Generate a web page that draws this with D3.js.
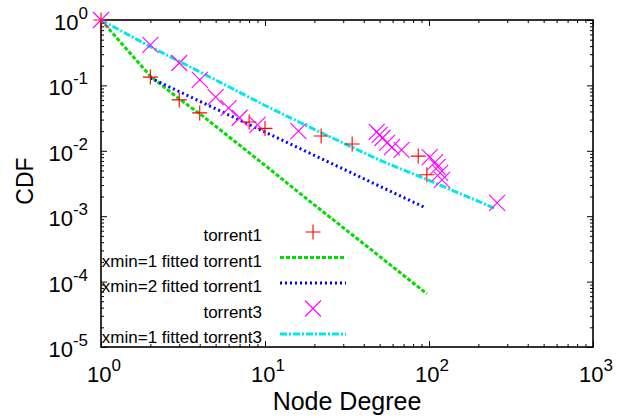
<!DOCTYPE html>
<html>
<head>
<meta charset="utf-8">
<script src="https://cdn.jsdelivr.net/npm/d3@7"></script>
<style>
  html, body { margin: 0; padding: 0; background: #fff; }
  svg { display: block; }
  text { font-family: "Liberation Sans", Arial, Helvetica, sans-serif; fill: #000; }
</style>
</head>
<body>
<svg id="chart" width="630" height="420"></svg>
<script>
// ---- data ----
const torrent1X = [1, 2, 3, 4, 8, 10, 22, 34, 86, 97];
const torrent1Y = [1, 0.134, 0.06, 0.038, 0.0275, 0.022, 0.0168, 0.0127, 0.0083, 0.0043];

const torrent3X = [1, 2, 3, 4, 5, 6, 7, 9, 16, 48, 50, 52, 55.5, 59.5, 68, 101, 109, 113, 117, 120, 260];
const torrent3Y = [1, 0.415, 0.22, 0.121, 0.066, 0.045, 0.032, 0.025, 0.020, 0.0194, 0.0175, 0.0157, 0.0132, 0.0114, 0.0103, 0.0080, 0.0067, 0.0057, 0.0046, 0.0036, 0.0016];

const fit1X = [1, 2, 3, 4, 10, 20, 50, 97];
const fit1Y = [1, 0.138, 0.062, 0.037, 0.006, 0.00149, 0.000243, 0.000065];

const fit2X = [2, 96];
const fit2Y = [0.13, 0.00133];

const fit3X = [1, 2, 3, 5, 10, 20, 50, 100, 250];
const fit3Y = [1, 0.39, 0.233, 0.121, 0.0493, 0.0212, 0.0072, 0.00352, 0.00133];

const xMajor = [1, 10, 100, 1000];
const xExp = ["0", "1", "2", "3"];
const yMajor = [1, 0.1, 0.01, 0.001, 0.0001, 0.00001];
const yExp = ["0", "-1", "-2", "-3", "-4", "-5"];

const legendLabels = ["torrent1", "xmin=1 fitted torrent1", "xmin=2 fitted torrent1", "torrent3", "xmin=1 fitted torrent3"];

// ---- layout ----
const L = 101, R = 593, T = 20, B = 347;
const svg = d3.select("#chart");
const x = d3.scaleLog().domain([1, 1000]).range([L, R]);
const y = d3.scaleLog().domain([1e-5, 1]).range([B, T]);

function minors(lo, hi) {
  const out = [];
  for (let d = lo; d < hi; d *= 10) for (let k = 2; k <= 9; k++) out.push(d * k);
  return out;
}
const xMinor = minors(1, 1000);
const yMinor = minors(1e-5, 1);

// ticks (inward, mirrored)
const axG = svg.append("g");
function addAxis(axisFn, scale, vals, size, transform) {
  const g = axG.append("g").attr("transform", transform)
    .call(axisFn(scale).tickValues(vals).tickSize(size).tickFormat(""));
  g.select(".domain").remove();
  g.selectAll(".tick line").attr("stroke", "#000").attr("stroke-width", 1);
}
addAxis(d3.axisBottom, x, xMajor, -6, `translate(0,${B})`);
addAxis(d3.axisBottom, x, xMinor, -3, `translate(0,${B})`);
addAxis(d3.axisTop, x, xMajor, -6, `translate(0,${T})`);
addAxis(d3.axisTop, x, xMinor, -3, `translate(0,${T})`);
addAxis(d3.axisLeft, y, yMajor, -6, `translate(${L},0)`);
addAxis(d3.axisLeft, y, yMinor, -3, `translate(${L},0)`);
addAxis(d3.axisRight, y, yMajor, -6, `translate(${R},0)`);
addAxis(d3.axisRight, y, yMinor, -3, `translate(${R},0)`);

// frame
svg.append("rect").attr("x", L).attr("y", T).attr("width", R - L).attr("height", B - T)
  .attr("fill", "none").attr("stroke", "#000").attr("stroke-width", 1.6);

// tick labels
xMajor.forEach((v, i) => {
  const t = svg.append("text").attr("x", x(v) + 3).attr("y", B + 35)
    .attr("text-anchor", "middle").style("font-size", "22px");
  t.append("tspan").text("10");
  t.append("tspan").attr("dy", -11).style("font-size", "17px").text(xExp[i]);
});
yMajor.forEach((v, i) => {
  const t = svg.append("text").attr("x", 88).attr("y", y(v) + 10)
    .attr("text-anchor", "end").style("font-size", "22px");
  t.append("tspan").text("10");
  t.append("tspan").attr("dy", -11).style("font-size", "17px").text(yExp[i]);
});

// axis titles
svg.append("text").attr("x", 347).attr("y", 410).attr("text-anchor", "middle")
  .style("font-size", "25px").text("Node Degree");
svg.append("text").attr("transform", "translate(33,181) rotate(-90)")
  .attr("text-anchor", "middle").style("font-size", "23px").text("CDF");

// fitted lines
const line = d3.line().x(d => x(d[0])).y(d => y(d[1]));
const styles = [
  { color: "#00dd00", dash: "4,2" },
  { color: "#0000ff", dash: "2,3" },
  { color: "#00e8e8", dash: "7,2,2,2" }
];
const fits = [
  d3.zip(fit1X, fit1Y),
  d3.zip(fit2X, fit2Y),
  d3.zip(fit3X, fit3Y)
];
fits.forEach((f, i) => {
  svg.append("path").datum(f).attr("d", line).attr("fill", "none")
    .attr("stroke", styles[i].color).attr("stroke-width", 3)
    .attr("stroke-dasharray", styles[i].dash);
});

// markers
const plusPath = (cx, cy, r) => `M${cx - r},${cy}H${cx + r}M${cx},${cy - r}V${cy + r}`;
const crossPath = (cx, cy, r) => `M${cx - r},${cy - r}L${cx + r},${cy + r}M${cx - r},${cy + r}L${cx + r},${cy - r}`;

svg.append("g").selectAll("path").data(d3.zip(torrent3X, torrent3Y)).join("path")
  .attr("d", d => crossPath(x(d[0]), y(d[1]), 8))
  .attr("stroke", "#ff00ff").attr("stroke-width", 1.1).attr("fill", "none");
svg.append("g").selectAll("path").data(d3.zip(torrent1X, torrent1Y)).join("path")
  .attr("d", d => plusPath(x(d[0]), y(d[1]), 7.5))
  .attr("stroke", "#ff0000").attr("stroke-width", 1.1).attr("fill", "none");

// legend
const legY = [232, 257.5, 283, 308.5, 334];
const leg = svg.append("g");
legendLabels.forEach((lab, i) => {
  leg.append("text").attr("x", 262).attr("y", legY[i] + 9).attr("text-anchor", "end")
    .style("font-size", "17px").text(lab);
});
leg.append("path").attr("d", plusPath(313, legY[0], 7.5)).attr("stroke", "#ff0000").attr("stroke-width", 1.1);
leg.append("path").attr("d", crossPath(313, legY[3], 8)).attr("stroke", "#ff00ff").attr("stroke-width", 1.1);
[1, 2, 4].forEach((row, i) => {
  leg.append("line").attr("x1", 280).attr("x2", 346).attr("y1", legY[row]).attr("y2", legY[row])
    .attr("stroke", styles[i].color).attr("stroke-width", 3).attr("stroke-dasharray", styles[i].dash);
});
</script>
</body>
</html>
